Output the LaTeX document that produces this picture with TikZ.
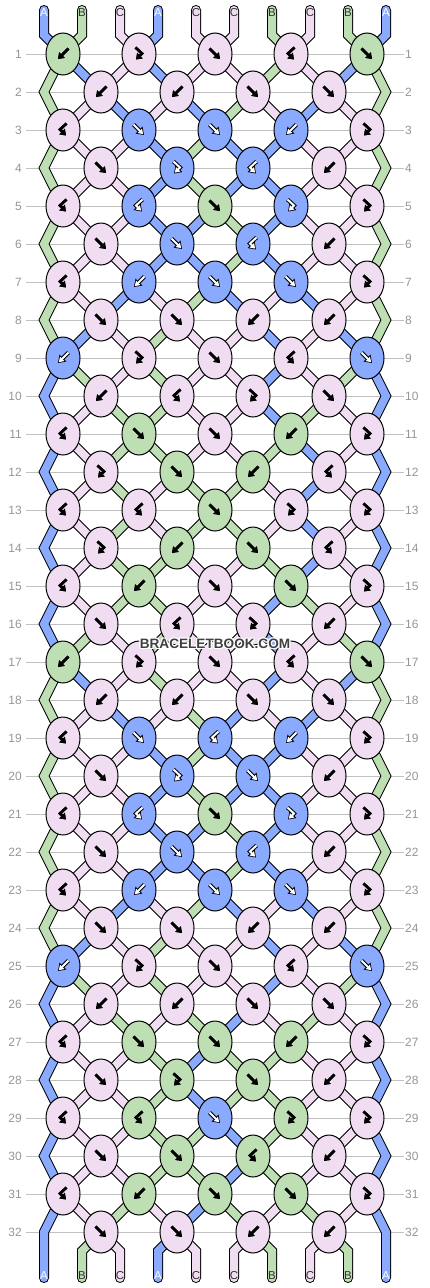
\documentclass[tikz,border=0pt]{standalone}
\usepackage{fontspec}
\setmainfont{Liberation Sans}
\usetikzlibrary{shapes.geometric,arrows.meta,backgrounds}
\definecolor{cA}{RGB}{138,170,255}
\definecolor{cB}{RGB}{190,222,180}
\definecolor{cC}{RGB}{241,221,241}
\definecolor{rowline}{RGB}{192,192,192}
\definecolor{rowtxt}{RGB}{150,150,150}
\definecolor{wmtxt}{RGB}{64,64,64}
\definecolor{tltxt}{RGB}{50,50,50}
\tikzset{
  knot/.style={ellipse, draw=black, line width=1pt, fill=#1, minimum width=34pt, minimum height=42pt, inner sep=0pt},
  strand/.style={draw=black, line width=1pt, double=#1, double distance=8pt, line join=miter},
  tail/.style={strand=#1, line cap=round},
  aoutA/.style={draw=black, line width=4pt, line join=miter, -{Triangle[length=7pt,width=9.4pt]}},
  ainA/.style={draw=white, line width=2pt, line join=miter, -{Triangle[length=4.8pt,width=6pt]}, shorten >=1.2pt},
  aoutB/.style={draw=black, line width=2.6pt, line join=miter, -{Triangle[length=5.6pt,width=7.6pt]}},
  ainB/.style={aoutB}, aoutC/.style={aoutB}, ainC/.style={aoutB},
  pics/gF/.style={code={\draw[aout#1] (-5.5,-5.5)--(5,5); \draw[ain#1] (-5.5,-5.5)--(5,5);}},
  pics/gB/.style={code={\draw[aout#1] (5.5,-5.5)--(-5,5); \draw[ain#1] (5.5,-5.5)--(-5,5);}},
  pics/gf/.style={code={\draw[aout#1] (-3.5,-6.5)--(3,-0.5)--(-3,5.5); \draw[ain#1] (-3.5,-6.5)--(3,-0.5)--(-3,5.5);}},
  pics/gb/.style={code={\draw[aout#1] (3.5,-6.5)--(-3,-0.5)--(3,5.5); \draw[ain#1] (3.5,-6.5)--(-3,-0.5)--(3,5.5);}},
  tlA/.style={text=white, font=\fontsize{11.5}{12}\selectfont, inner sep=0pt},
  tlB/.style={text=tltxt, font=\fontsize{11.5}{12}\selectfont, inner sep=0pt},
  tlC/.style={tlB},
  rowlbl/.style={text=rowtxt, font=\fontsize{12}{12}\selectfont, inner sep=0pt},
  wm/.style={font=\fontsize{13.6}{14}\selectfont\bfseries, inner sep=0pt}
}
\begin{document}
\begin{tikzpicture}[x=1pt,y=-1pt]
\useasboundingbox (0,0) rectangle (430,1288);
% knots
\foreach \r/\ks in {
 1/{B/B,C/f,C/F,C/b,B/F},
 2/{C/B,C/B,C/F,C/F},
 3/{C/b,A/F,A/F,A/B,C/f},
 4/{C/F,A/f,A/b,C/B},
 5/{C/b,A/b,B/F,A/f,C/f},
 6/{C/F,A/F,A/b,C/B},
 7/{C/b,A/B,A/F,A/F,C/f},
 8/{C/F,C/F,C/B,C/B},
 9/{A/B,C/f,C/F,C/b,A/F},
 10/{C/B,C/b,C/f,C/F},
 11/{C/b,B/F,C/F,B/B,C/f},
 12/{C/f,B/F,B/B,C/b},
 13/{C/b,C/b,B/F,C/f,C/f},
 14/{C/f,B/B,B/F,C/b},
 15/{C/b,B/B,C/F,B/F,C/f},
 16/{C/F,C/b,C/f,C/B},
 17/{B/B,C/f,C/F,C/b,B/F},
 18/{C/B,C/B,C/F,C/F},
 19/{C/b,A/F,A/b,A/B,C/f},
 20/{C/F,A/f,A/F,C/B},
 21/{C/b,A/b,B/F,A/f,C/f},
 22/{C/F,A/F,A/b,C/B},
 23/{C/b,A/B,A/F,A/F,C/f},
 24/{C/F,C/F,C/B,C/B},
 25/{A/B,C/f,C/F,C/b,A/F},
 26/{C/B,C/B,C/F,C/F},
 27/{C/b,B/F,B/F,B/B,C/f},
 28/{C/F,B/f,B/F,C/B},
 29/{C/b,B/b,A/F,B/f,C/f},
 30/{C/F,B/F,B/b,C/B},
 31/{C/b,B/B,B/F,B/F,C/f},
 32/{C/F,C/F,C/B,C/B}} {
  \foreach \c/\t [count=\k] in \ks {
    \pgfmathsetmacro\kx{isodd(\r) ? 63+76*(\k-1) : 101+76*(\k-1)}
    \pgfmathsetmacro\ky{54+38*(\r-1)}
    \node[knot=c\c] (k-\r-\k) at (\kx,\ky) {};
    \edef\tmp{\noexpand\pic at (\kx,\ky) {g\t=\c};}
    \tmp
  }
}
% row labels
\foreach \r in {1,...,32} {
  \pgfmathsetmacro\ky{54+38*(\r-1)}
  \node[rowlbl, anchor=east] (ll-\r) at (22,\ky) {\r};
  \node[rowlbl, anchor=west] (lr-\r) at (405,\ky) {\r};
}
% watermark
\foreach \dx/\dy [count=\j] in {-1.2/0,1.2/0,0/-1.2,0/1.2,-1/-1,1/1,-1/1,1/-1} {
  \node[wm, text=white] (wmh-\j) at (215+\dx,644+\dy) {BRACELETBOOK.COM};
}
\node[wm, text=wmtxt] (wm) at (215,644) {BRACELETBOOK.COM};
% strands
\begin{pgfonlayer}{background}
\fill[white] (0,0) rectangle (430,1288);
\foreach \r in {1,...,32} {
  \pgfmathsetmacro\ky{54+38*(\r-1)}
  \draw[rowline, line width=1pt] (26,\ky) -- (404,\ky);
}
\foreach \c [count=\i] in {A,B,C,A,C,C,B,C,B,A} {
  \pgfmathsetmacro\sx{44+38*(\i-1)}
  \pgfmathtruncatemacro\ka{int((\i+1)/2)}
  \draw[tail=c\c] (\sx,10) -- (\sx,35) -- (k-1-\ka.center);
}
\foreach \r/\cols in {
 1/{B,A,C,A,C,C,B,C,A,B},
 2/{B,C,A,C,A,B,C,A,C,B},
 3/{B,C,C,A,B,A,A,C,C,B},
 4/{B,C,C,A,B,A,A,C,C,B},
 5/{B,C,C,A,A,B,A,C,C,B},
 6/{B,C,C,A,A,B,A,C,C,B},
 7/{B,C,A,C,B,A,C,A,C,B},
 8/{B,A,C,B,C,C,A,C,A,B},
 9/{A,B,C,B,C,C,A,C,B,A},
 10/{A,C,B,B,C,C,A,B,C,A},
 11/{A,C,B,B,C,C,B,A,C,A},
 12/{A,C,B,C,B,B,C,A,C,A},
 13/{A,C,B,C,B,B,C,A,C,A},
 14/{A,C,B,B,C,C,B,A,C,A},
 15/{A,C,B,B,C,C,A,B,C,A},
 16/{A,B,C,B,C,C,A,C,B,A},
 17/{B,A,C,B,C,C,A,C,A,B},
 18/{B,C,A,C,B,A,C,A,C,B},
 19/{B,C,C,A,B,A,A,C,C,B},
 20/{B,C,C,A,B,A,A,C,C,B},
 21/{B,C,C,A,A,B,A,C,C,B},
 22/{B,C,C,A,A,B,A,C,C,B},
 23/{B,C,A,C,B,A,C,A,C,B},
 24/{B,A,C,B,C,C,A,C,A,B},
 25/{A,B,C,B,C,C,A,C,B,A},
 26/{A,C,B,C,B,A,C,B,C,A},
 27/{A,C,C,B,A,B,B,C,C,A},
 28/{A,C,C,B,A,B,B,C,C,A},
 29/{A,C,C,B,B,A,B,C,C,A},
 30/{A,C,C,B,B,A,B,C,C,A},
 31/{A,C,B,C,A,B,C,B,C,A}} {
  \foreach \c [count=\i] in \cols {
    \pgfmathtruncatemacro\rn{\r+1}
    \pgfmathtruncatemacro\rnn{\r+2}
    \pgfmathtruncatemacro\ka{isodd(\r) ? int((\i+1)/2) : int(\i/2)}
    \pgfmathtruncatemacro\kb{isodd(\rn) ? int((\i+1)/2) : int(\i/2)}
    \pgfmathsetmacro\yv{54+38*\r}
    \pgfmathtruncatemacro\myedge{(\i==1 || \i==10) ? 1 : 0}
    \pgfmathtruncatemacro\myodd{isodd(\r)}
    \ifnum\myedge=1
      \ifnum\myodd=1
        \pgfmathsetmacro\vx{\i==1 ? 44 : 386}
        \ifnum\r<31
          \draw[strand=c\c] (k-\r-\ka.center) -- (\vx,\yv) -- (k-\rnn-\ka.center);
        \else
          \draw[tail=c\c] (k-\r-\ka.center) -- (\vx,\yv) -- (\vx,1278);
        \fi
      \fi
    \else
      \draw[strand=c\c] (k-\r-\ka.center) -- (k-\rn-\kb.center);
    \fi
  }
}
\foreach \c [count=\i] in {A,B,C,A,C,C,B,C,B,A} {
  \pgfmathsetmacro\sx{44+38*(\i-1)}
  \pgfmathtruncatemacro\kb{int(\i/2)}
  \ifnum\i>1 \ifnum\i<10
    \draw[tail=c\c] (k-32-\kb.center) -- (\sx,1251) -- (\sx,1278);
  \fi\fi
}
\foreach \c [count=\i] in {A,B,C,A,C,C,B,C,B,A} {
  \pgfmathsetmacro\sx{44+38*(\i-1)}
  \node[tl\c] (tt-\i) at (\sx,13) {\c};
  \node[tl\c] (tb-\i) at (\sx,1276) {\c};
}
\end{pgfonlayer}
\end{tikzpicture}
\end{document}
